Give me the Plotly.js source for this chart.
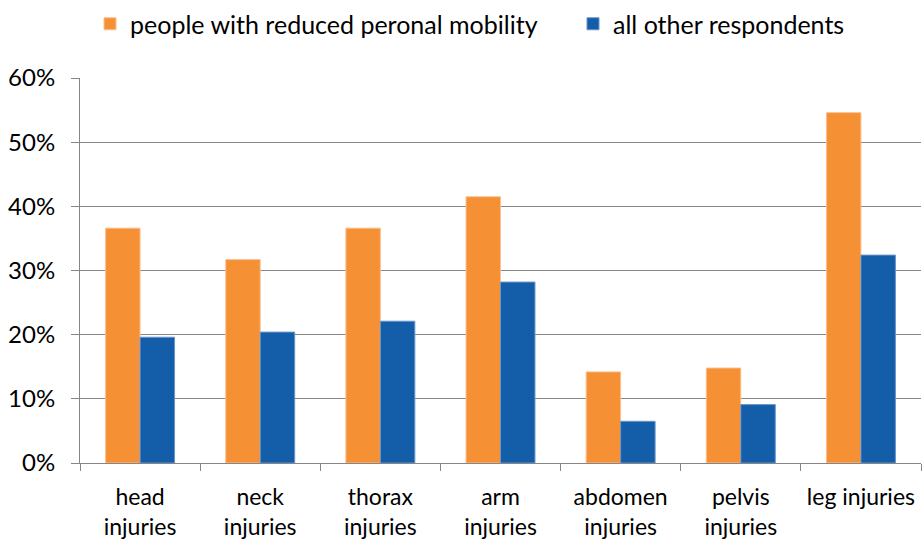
<!DOCTYPE html>
<html><head><meta charset="utf-8">
<script src="https://cdn.plot.ly/plotly-3.0.1.min.js"></script>
<style>html,body{margin:0;padding:0;background:#fff}#chart{width:923px;height:543px}</style>
</head><body><div id="chart"></div>
<script>
var categories = ["head<br>injuries","neck<br>injuries","thorax<br>injuries","arm<br>injuries","abdomen<br>injuries","pelvis<br>injuries","leg injuries"];
var seriesNames = ["people with reduced peronal mobility","all other respondents"];
var reducedMobility = [0.366, 0.317, 0.366, 0.415, 0.142, 0.148, 0.546];
var otherRespondents = [0.196, 0.204, 0.221, 0.282, 0.065, 0.091, 0.324];
var yTicks = [0,0.1,0.2,0.3,0.4,0.5,0.6];

var fam = "Lato, 'Open Sans', sans-serif";
var font = {family: fam, size: 24, color: "#000"};
var legFont = {family: fam, size: 25, color: "#000"};
var xFont = {family: fam, size: 23, color: "#000"};
var traces = [
  {type:"bar", name:seriesNames[0], x:categories, y:reducedMobility, legend:"legend",
   marker:{color:"#F69035", line:{color:"#FAC090", width:1}}},
  {type:"bar", name:seriesNames[1], x:categories, y:otherRespondents, legend:"legend2",
   marker:{color:"#145DA9", line:{color:"#6A95C8", width:1}}}
];
var legBase = {orientation:"h", xref:"container", yref:"container", xanchor:"left", yanchor:"middle",
               font:legFont, itemclick:false, bgcolor:"rgba(0,0,0,0)", borderwidth:0};
var layout = {
  width:923, height:543,
  margin:{l:80, r:2, t:78, b:80},
  paper_bgcolor:"#fff", plot_bgcolor:"#fff",
  font:font,
  barmode:"group", bargap:0.426, bargroupgap:0,
  showlegend:true,
  legend:Object.assign({}, legBase, {x:90/923, y:1-24/543}),
  legend2:Object.assign({}, legBase, {x:573/923, y:1-24/543}),
  xaxis:{type:"category", showgrid:false, showline:true, linecolor:"#868686", linewidth:1,
         ticks:"outside", tickson:"boundaries", ticklen:7, tickcolor:"#868686", tickfont:xFont,
         tickangle:0, ticklabelstandoff:13},
  yaxis:{range:[0,0.6], tickvals:yTicks, tickformat:".0%", showgrid:true, gridcolor:"#868686", gridwidth:1,
         showline:true, linecolor:"#868686", linewidth:1, ticks:"outside", ticklen:8, tickcolor:"#868686",
         tickfont:font, zeroline:false, ticklabelstandoff:11}
};
Plotly.newPlot("chart", traces, layout, {displayModeBar:false, staticPlot:true});
</script></body></html>
